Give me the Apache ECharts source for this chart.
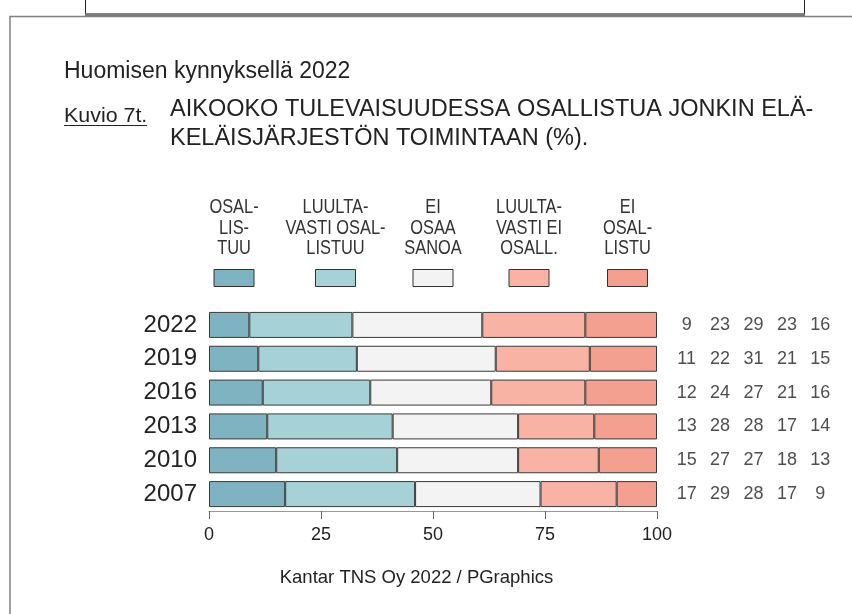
<!DOCTYPE html>
<html>
<head>
<meta charset="utf-8">
<script src="https://cdn.jsdelivr.net/npm/echarts@6/dist/echarts.min.js"></script>
<style>
  html, body { margin: 0; padding: 0; background: #fff; }
  #chart { width: 852px; height: 614px; }
</style>
</head>
<body>
<div id="chart"></div>
<script>
// data
const years = ['2022', '2019', '2016', '2013', '2010', '2007'];
const osallistuu = [9, 11, 12, 13, 15, 17];
const luultavastiOsal = [23, 22, 24, 28, 27, 29];
const eiOsaa = [29, 31, 27, 28, 27, 28];
const luultavastiEi = [23, 21, 21, 17, 18, 17];
const eiOsallistu = [16, 15, 16, 14, 13, 9];
const legendNames = [
  'OSAL-\nLIS-\nTUU',
  'LUULTA-\nVASTI OSAL-\nLISTUU',
  'EI\nOSAA\nSANOA',
  'LUULTA-\nVASTI EI\nOSALL.',
  'EI\nOSAL-\nLISTU',
];
const xTicks = [0, 25, 50, 75, 100];

const colors = ['#7fb3c1', '#a6d1d7', '#f2f3f2', '#f8b3a5', '#f4a091'];
const seriesValues = [osallistuu, luultavastiOsal, eiOsaa, luultavastiEi, eiOsallistu];
const legendX = [234, 335.5, 433, 529, 627.5];
const font = 'Liberation Sans, Arial, sans-serif';

const myechart = echarts.init(document.getElementById('chart'));

const bars = seriesValues.map((vals, i) => ({
  name: legendNames[i],
  type: 'bar',
  stack: 'total',
  barWidth: 26,
  itemStyle: { color: colors[i], borderColor: '#3a3a3a', borderWidth: 1 },
  data: vals,
}));

// numbers on the right side
const tableData = [];
for (let i = 0; i < years.length; i += 1) {
  for (let j = 0; j < seriesValues.length; j += 1) {
    tableData.push([j, i, seriesValues[j][i]]);
  }
}

const graphics = [
  // frame
  { type: 'polyline', shape: { points: [[10, 620], [10, 16.5], [860, 16.5]] }, style: { stroke: '#808080', lineWidth: 1.5, fill: null } },
  { type: 'rect', shape: { x: 85.5, y: -5, width: 719, height: 19 }, style: { fill: '#fff', stroke: '#222', lineWidth: 1 } },
  { type: 'line', shape: { x1: 85, y1: 15, x2: 805, y2: 15 }, style: { stroke: '#7a7a7a', lineWidth: 3 } },
  // titles
  { type: 'text', x: 64, y: 72, style: { text: 'Huomisen kynnyksellä 2022', font: '23px ' + font, fill: '#222', verticalAlign: 'middle' } },
  { type: 'text', x: 64, y: 116, scaleX: 1.07, style: { text: 'Kuvio 7t.', font: '20px ' + font, fill: '#222', verticalAlign: 'middle' } },
  { type: 'line', shape: { x1: 64, y1: 125.5, x2: 147, y2: 125.5 }, style: { stroke: '#222', lineWidth: 1 } },
  { type: 'text', x: 170, y: 124, style: { text: 'AIKOOKO TULEVAISUUDESSA OSALLISTUA JONKIN ELÄ-\nKELÄISJÄRJESTÖN TOIMINTAAN (%).', font: '23.5px ' + font, lineHeight: 29.5, fill: '#222', verticalAlign: 'middle' } },
  // footer
  { type: 'text', x: 416.5, y: 578, style: { text: 'Kantar TNS Oy 2022 / PGraphics', font: '18.5px ' + font, fill: '#222', align: 'center', verticalAlign: 'middle' } },
];
legendNames.forEach((n, i) => {
  graphics.push({ type: 'text', x: legendX[i], y: 228, scaleX: 0.82, style: { text: n, font: '20px ' + font, lineHeight: 20.5, fill: '#333', align: 'center', verticalAlign: 'middle' } });
  graphics.push({ type: 'rect', shape: { x: legendX[i] - 20, y: 269.5, width: 40, height: 17 }, style: { fill: colors[i], stroke: '#333', lineWidth: 1 } });
});

const option = {
  backgroundColor: '#fff',
  animation: false,
  textStyle: { fontFamily: font },
  grid: [
    { left: 209, top: 308, width: 448, height: 203 },
    { left: 670, top: 308, width: 167, height: 203 },
  ],
  xAxis: [
    {
      type: 'value',
      min: 0,
      max: 100,
      interval: 25,
      axisLine: { show: true, lineStyle: { color: '#999', width: 1 } },
      axisTick: { show: true, length: 8, lineStyle: { color: '#666' } },
      splitLine: { show: false },
      axisLabel: { fontSize: 18, color: '#222', margin: 15, formatter: (v) => (xTicks.indexOf(v) >= 0 ? String(v) : '') },
    },
    { gridIndex: 1, type: 'category', data: ['1', '2', '3', '4', '5'], show: false },
  ],
  yAxis: [
    {
      type: 'category',
      data: years,
      inverse: true,
      axisLine: { show: false },
      axisTick: { show: false },
      axisLabel: { fontSize: 24, color: '#222', margin: 12 },
    },
    { gridIndex: 1, type: 'category', data: years, inverse: true, show: false },
  ],
  series: bars.concat([{
    type: 'scatter',
    xAxisIndex: 1,
    yAxisIndex: 1,
    symbolSize: 1,
    itemStyle: { color: 'rgba(0,0,0,0)' },
    label: {
      show: true,
      position: 'inside',
      fontSize: 18,
      color: '#222',
      formatter: (p) => String(p.value[2]),
    },
    data: tableData,
  }]),
  graphic: graphics,
};

myechart.setOption(option);
window.addEventListener('resize', () => myechart.resize());
</script>
</body>
</html>
